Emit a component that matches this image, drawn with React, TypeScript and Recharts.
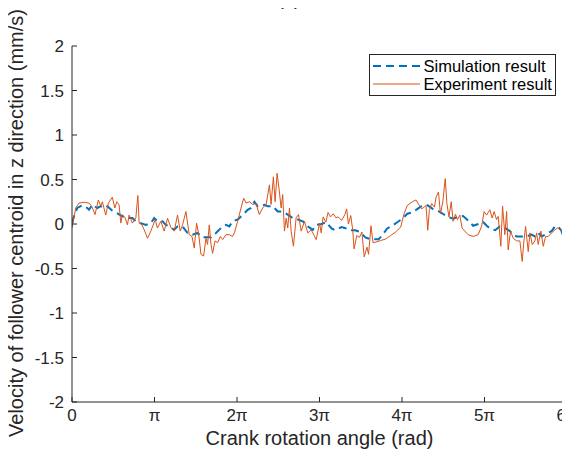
import React from 'react';
import { LineChart, Line, XAxis, YAxis } from 'recharts';

// Angles are expressed in multiples of π (0 … 6 → 0 … 6π rad)
const xTicks = [0, 1, 2, 3, 4, 5, 6];
const xTickLabels = ['0', 'π', '2π', '3π', '4π', '5π', '6π'];
const yTicks = [-2, -1.5, -1, -0.5, 0, 0.5, 1, 1.5, 2];
const yTickLabels = ['-2', '-1.5', '-1', '-0.5', '0', '0.5', '1', '1.5', '2'];

const simAngle = [
  0, 0.024, 0.064, 0.125, 0.186, 0.206, 0.247, 0.307, 0.349, 0.389, 0.429, 0.489, 0.55, 0.611, 0.672,
  0.732, 0.774, 0.834, 0.895, 0.956, 0.996, 1.036, 1.097, 1.138, 1.178, 1.239, 1.279, 1.34, 1.4, 1.461,
  1.522, 1.583, 1.643, 1.685, 1.745, 1.806, 1.867, 1.907, 1.947, 2.008, 2.089, 2.129, 2.17, 2.211, 2.251,
  2.292, 2.332, 2.372, 2.433, 2.494, 2.554, 2.615, 2.676, 2.736, 2.797, 2.858, 2.919, 2.96, 3.023, 3.084,
  3.146, 3.187, 3.267, 3.328, 3.371, 3.432, 3.493, 3.555, 3.616, 3.717, 3.759, 3.82, 3.882, 3.943, 4.005,
  4.065, 4.127, 4.188, 4.25, 4.311, 4.373, 4.433, 4.495, 4.556, 4.618, 4.679, 4.741, 4.802, 4.863, 4.925,
  4.986, 5.027, 5.067, 5.129, 5.186, 5.247, 5.308, 5.348, 5.389, 5.45, 5.511, 5.571, 5.611, 5.651, 5.693,
  5.733, 5.773, 5.814, 5.854, 5.894, 5.935, 5.955, 5.976, 6.0,
];
const simVelocity = [
  0.01, 0.085, 0.18, 0.21, 0.18, 0.16, 0.216, 0.18, 0.2, 0.18, 0.2, 0.15, 0.12, 0.085, 0.067,
  0.067, 0.03, 0.01, -0.01, 0.01, 0.067, 0.03, 0.03, -0.01, -0.027, -0.065, -0.027, -0.027, -0.1, -0.12,
  -0.1, -0.15, -0.15, -0.15, -0.1, -0.045, -0.01, -0.027, 0.03, 0.05, 0.12, 0.16, 0.18, 0.25, 0.2,
  0.2, 0.216, 0.2, 0.2, 0.14, 0.14, 0.105, 0.067, 0.05, 0.03, -0.027, -0.065, -0.01, 0.0, 0.02,
  -0.05, -0.07, -0.035, -0.05, -0.07, -0.07, -0.09, -0.15, -0.17, -0.17, -0.13, -0.05, -0.02, 0.02, 0.06,
  0.115, 0.13, 0.17, 0.21, 0.21, 0.17, 0.15, 0.115, 0.08, 0.06, 0.08, 0.09, 0.04, -0.02, 0.0,
  0.02, -0.02, -0.05, -0.07, -0.027, -0.045, -0.08, -0.12, -0.14, -0.14, -0.14, -0.12, -0.14, -0.1, -0.14,
  -0.12, -0.1, -0.08, -0.027, -0.027, -0.08, -0.16, -0.14, -0.15,
];

const expAngle = [
  0, 0.045, 0.085, 0.146, 0.206, 0.239, 0.279, 0.319, 0.349, 0.368, 0.409, 0.441, 0.489, 0.519, 0.543,
  0.571, 0.592, 0.611, 0.644, 0.672, 0.692, 0.732, 0.774, 0.798, 0.814, 0.847, 0.875, 0.915, 0.956, 1.008,
  1.036, 1.077, 1.117, 1.158, 1.199, 1.239, 1.279, 1.312, 1.34, 1.381, 1.421, 1.454, 1.482, 1.51, 1.534,
  1.563, 1.595, 1.624, 1.643, 1.664, 1.685, 1.704, 1.733, 1.765, 1.798, 1.826, 1.867, 1.907, 1.947, 1.968,
  2.008, 2.049, 2.081, 2.11, 2.15, 2.19, 2.231, 2.271, 2.311, 2.353, 2.393, 2.413, 2.441, 2.462, 2.486,
  2.514, 2.535, 2.554, 2.575, 2.596, 2.615, 2.636, 2.656, 2.684, 2.717, 2.745, 2.778, 2.818, 2.858, 2.899,
  2.919, 2.96, 3.0, 3.021, 3.044, 3.077, 3.104, 3.134, 3.166, 3.199, 3.227, 3.268, 3.31, 3.329, 3.35,
  3.379, 3.403, 3.419, 3.452, 3.485, 3.514, 3.542, 3.575, 3.595, 3.624, 3.649, 3.678, 3.738, 3.8, 3.861,
  3.923, 3.984, 4.025, 4.065, 4.127, 4.169, 4.209, 4.238, 4.271, 4.291, 4.312, 4.331, 4.36, 4.393, 4.414,
  4.442, 4.466, 4.495, 4.524, 4.544, 4.569, 4.597, 4.619, 4.648, 4.673, 4.701, 4.728, 4.761, 4.801, 4.862,
  4.923, 4.964, 4.996, 5.025, 5.065, 5.093, 5.117, 5.146, 5.166, 5.198, 5.219, 5.247, 5.268, 5.287, 5.316,
  5.348, 5.389, 5.429, 5.457, 5.478, 5.498, 5.53, 5.551, 5.579, 5.611, 5.632, 5.651, 5.684, 5.712, 5.741,
  5.773, 5.814, 5.854, 5.887, 5.915, 5.943, 5.976, 6.0,
];
const expVelocity = [
  -0.045, 0.18, 0.235, 0.245, 0.235, 0.2, 0.105, 0.27, 0.2, 0.25, 0.1, 0.235, 0.3, 0.18, 0.25,
  0.215, 0.01, 0.105, 0.07, -0.01, 0.1, 0.01, 0.07, 0.32, 0.01, -0.01, -0.065, -0.16, -0.08, 0.05,
  -0.045, 0.03, -0.08, 0.065, -0.04, -0.08, 0.1, -0.08, -0.01, 0.14, -0.12, -0.14, -0.27, 0.01, -0.1,
  -0.34, -0.36, -0.16, -0.23, -0.01, -0.23, -0.33, -0.19, -0.21, -0.14, -0.175, -0.12, -0.12, -0.14, -0.1,
  0.03, 0.18, 0.29, 0.235, 0.25, 0.22, 0.23, 0.105, 0.18, 0.22, 0.44, 0.22, 0.53, 0.25, 0.57,
  0.36, 0.18, 0.33, -0.08, 0.065, -0.045, 0.18, -0.08, -0.25, 0.07, 0.105, -0.08, 0.03, -0.1, -0.065,
  -0.1, -0.175, 0.01, -0.1, 0.08, 0.02, 0.13, 0.08, 0.115, 0.07, 0.08, 0.04, 0.11, 0.17, 0.0,
  0.095, -0.07, -0.28, -0.13, -0.15, -0.09, -0.37, -0.26, -0.34, -0.02, -0.21, -0.205, -0.186, -0.17, -0.13,
  -0.09, -0.035, 0.115, 0.21, 0.25, 0.27, 0.21, 0.17, 0.19, 0.21, -0.07, 0.15, 0.23, 0.19, 0.305,
  0.36, 0.115, 0.25, 0.51, 0.23, 0.08, 0.25, 0.03, 0.11, 0.05, 0.1, -0.045, -0.08, -0.12, -0.14,
  -0.12, -0.027, 0.14, 0.1, 0.16, 0.067, 0.14, 0.05, 0.085, -0.25, 0.2, -0.12, 0.14, -0.29, -0.08,
  -0.16, -0.19, -0.19, -0.42, -0.19, -0.027, -0.31, -0.1, -0.23, -0.19, -0.1, -0.23, -0.08, -0.25, -0.14,
  -0.14, -0.1, -0.065, -0.045, -0.065, -0.08, -0.16, -0.12,
];

const simData = simAngle.map((a, i) => ({ a, v: simVelocity[i] }));
const expData = expAngle.map((a, i) => ({ a, v: expVelocity[i] }));

const AXIS = '#262626';
const FONT = '"Liberation Sans", Arial, Helvetica, sans-serif';
const BLUE = '#0072BD';
const ORANGE = '#D95319';

const BottomTick = (props: any) => {
  const { x, y, payload } = props;
  const i = xTicks.indexOf(payload.value);
  return (
    <g>
      <line x1={x} y1={y} x2={x} y2={y - 5} stroke={AXIS} strokeWidth={1} />
      <text x={x} y={y + 19} textAnchor="middle" fontSize={17} fill={AXIS} fontFamily={FONT}>
        {xTickLabels[i]}
      </text>
    </g>
  );
};

const LeftTick = (props: any) => {
  const { x, y, payload } = props;
  const i = yTicks.indexOf(payload.value);
  return (
    <g>
      <line x1={x} y1={y} x2={x + 5} y2={y} stroke={AXIS} strokeWidth={1} />
      <text x={x - 8} y={y} dy="0.355em" textAnchor="end" fontSize={17} fill={AXIS} fontFamily={FONT}>
        {yTickLabels[i]}
      </text>
    </g>
  );
};

const TopTick = (props: any) => {
  const { x, y } = props;
  return <line x1={x} y1={y} x2={x} y2={y + 5} stroke={AXIS} strokeWidth={1} />;
};

const RightTick = (props: any) => {
  const { x, y } = props;
  return <line x1={x} y1={y} x2={x - 5} y2={y} stroke={AXIS} strokeWidth={1} />;
};

const YLabel = (props: any) => {
  const vb = props.viewBox || { x: 0, y: 38, width: 64, height: 356 };
  const cx = vb.x + 14.5;
  const cy = vb.y + vb.height / 2 - 1;
  return (
    <text
      x={cx}
      y={cy}
      transform={`rotate(-90, ${cx}, ${cy})`}
      textAnchor="middle"
      fontSize={20}
      fill={AXIS}
      fontFamily={FONT}
    >
      Velocity of follower centroid in z direction (mm/s)
    </text>
  );
};

const XLabel = (props: any) => {
  const vb = props.viewBox || { x: 64, y: 394, width: 495, height: 61 };
  return (
    <text x={vb.x + vb.width / 2} y={vb.y + 43} textAnchor="middle" fontSize={20} fill={AXIS} fontFamily={FONT}>
      Crank rotation angle (rad)
    </text>
  );
};

export default function App() {
  return (
    <div style={{ position: 'relative', width: 562, height: 455 }}>
      <LineChart width={562} height={455} margin={{ top: 38, right: 3, bottom: 0, left: 0 }}>
        <XAxis
          xAxisId="main"
          type="number"
          dataKey="a"
          domain={[0, 6]}
          ticks={xTicks}
          interval={0}
          allowDataOverflow
          height={61}
          tickSize={0}
          tickMargin={0}
          tickLine={false}
          axisLine={{ stroke: AXIS, strokeWidth: 1 }}
          tick={<BottomTick />}
          label={{ content: (p: any) => <XLabel {...p} /> }}
        />
        <XAxis
          xAxisId="top"
          orientation="top"
          type="number"
          dataKey="a"
          domain={[0, 6]}
          ticks={xTicks}
          interval={0}
          allowDataOverflow
          height={0}
          tickSize={0}
          tickMargin={0}
          tickLine={false}
          axisLine={{ stroke: AXIS, strokeWidth: 1 }}
          tick={<TopTick />}
        />
        <YAxis
          yAxisId="main"
          type="number"
          domain={[-2, 2]}
          ticks={yTicks}
          interval={0}
          allowDataOverflow
          width={64}
          tickSize={0}
          tickMargin={0}
          tickLine={false}
          axisLine={{ stroke: AXIS, strokeWidth: 1 }}
          tick={<LeftTick />}
          label={{ content: (p: any) => <YLabel {...p} /> }}
        />
        <YAxis
          yAxisId="right"
          orientation="right"
          type="number"
          domain={[-2, 2]}
          ticks={yTicks}
          interval={0}
          allowDataOverflow
          width={0}
          tickSize={0}
          tickMargin={0}
          tickLine={false}
          axisLine={{ stroke: AXIS, strokeWidth: 1 }}
          tick={<RightTick />}
        />
        <Line
          xAxisId="main"
          yAxisId="main"
          data={simData}
          dataKey="v"
          type="linear"
          stroke={BLUE}
          strokeWidth={2}
          strokeDasharray="8 5"
          dot={false}
          activeDot={false}
          isAnimationActive={false}
          name="Simulation result"
        />
        <Line
          xAxisId="main"
          yAxisId="main"
          data={expData}
          dataKey="v"
          type="linear"
          stroke={ORANGE}
          strokeWidth={1}
          dot={false}
          activeDot={false}
          isAnimationActive={false}
          name="Experiment result"
        />
      </LineChart>
      <svg
        width={570}
        height={463}
        style={{ position: 'absolute', left: -8, top: -8, pointerEvents: 'none', overflow: 'visible' }}
      >
        <text x={289} y={5} textAnchor="middle" fontSize={20} fill={AXIS} fontFamily={FONT}>
          (c)
        </text>
        <rect x={369.5} y={54.5} width={186} height={41} fill="#ffffff" stroke={AXIS} strokeWidth={1} />
        <line x1={373} y1={66} x2={420} y2={66} stroke={BLUE} strokeWidth={2} strokeDasharray="8 5" />
        <text x={423.5} y={66} dy="0.355em" fontSize={16.5} fill="#000000" fontFamily={FONT}>
          Simulation result
        </text>
        <line x1={373} y1={84} x2={420} y2={84} stroke={ORANGE} strokeWidth={1} />
        <text x={423.5} y={84} dy="0.355em" fontSize={16.5} fill="#000000" fontFamily={FONT}>
          Experiment result
        </text>
      </svg>
    </div>
  );
}
